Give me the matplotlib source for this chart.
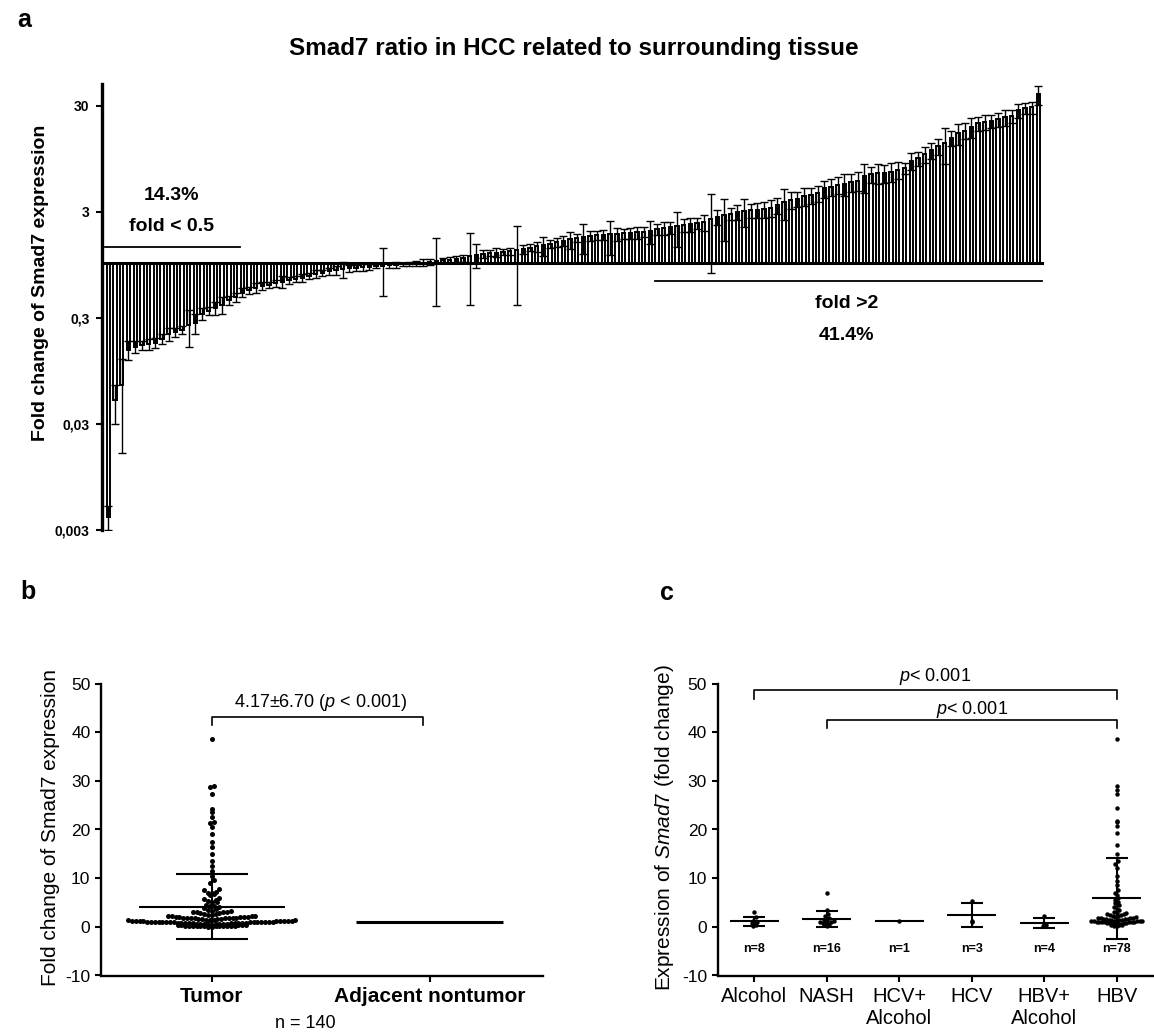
import numpy as np
import matplotlib.pyplot as plt
from matplotlib.ticker import NullLocator

plt.rcParams['font.family'] = ['Liberation Sans', 'DejaVu Sans']
plt.rcParams['mathtext.fontset'] = 'custom'
plt.rcParams['mathtext.rm'] = 'Liberation Sans'
plt.rcParams['mathtext.it'] = 'Liberation Sans:italic'
plt.rcParams['mathtext.bf'] = 'Liberation Sans:bold'

# === Data: panel a / b (140 tumours, sorted fold change tumour vs surrounding) ===
fold_change = np.array([
    0.004, 0.05, 0.07, 0.15, 0.16, 0.165, 0.17, 0.175, 0.19, 0.21,
    0.22, 0.23, 0.26, 0.27, 0.33, 0.35, 0.37, 0.40, 0.44, 0.47,
    0.52, 0.55, 0.58, 0.60, 0.62, 0.64, 0.66, 0.68, 0.70, 0.72,
    0.75, 0.78, 0.80, 0.83, 0.85, 0.86, 0.88, 0.89, 0.90, 0.91,
    0.92, 0.93, 0.94, 0.95, 0.96, 0.97, 0.98, 1.00, 1.02, 1.04,
    1.05, 1.06, 1.08, 1.10, 1.15, 1.18, 1.20, 1.22, 1.24, 1.26,
    1.28, 1.30, 1.33, 1.38, 1.42, 1.46, 1.50, 1.55, 1.60, 1.65,
    1.70, 1.75, 1.78, 1.80, 1.82, 1.84, 1.86, 1.88, 1.90, 1.92,
    1.95, 1.98, 2.05, 2.10, 2.15, 2.20, 2.25, 2.30, 2.35, 2.40,
    2.60, 2.70, 2.80, 2.90, 3.00, 3.05, 3.10, 3.15, 3.20, 3.30,
    3.50, 3.70, 3.90, 4.00, 4.20, 4.30, 4.50, 5.00, 5.20, 5.40,
    5.50, 5.70, 5.90, 6.50, 6.80, 7.00, 7.00, 7.20, 7.50, 7.80,
    9.10, 9.60, 10.5, 11.5, 12.5, 13.5, 15.0, 16.5, 17.5, 19.0,
    20.5, 21.3, 21.6, 22.5, 23.5, 24.2, 27.3, 28.7, 29.0, 38.5,
])
fold_sd = np.array([
    0.001, 0.02, 0.054, 0.03, 0.02, 0.015, 0.02, 0.02, 0.02, 0.03,
    0.02, 0.02, 0.10, 0.06, 0.04, 0.03, 0.05, 0.07, 0.04, 0.05,
    0.05, 0.04, 0.06, 0.05, 0.04, 0.05, 0.08, 0.05, 0.04, 0.06,
    0.05, 0.07, 0.05, 0.06, 0.08, 0.15, 0.06, 0.05, 0.07, 0.06,
    0.04, 0.45, 0.05, 0.06, 0.04, 0.05, 0.06, 0.08, 0.07, 0.65,
    0.05, 0.06, 0.07, 0.08, 0.75, 0.30, 0.10, 0.08, 0.12, 0.09,
    0.10, 0.90, 0.12, 0.10, 0.15, 0.30, 0.12, 0.15, 0.18, 0.30,
    0.15, 0.55, 0.20, 0.18, 0.20, 0.65, 0.25, 0.20, 0.22, 0.25,
    0.20, 0.50, 0.25, 0.30, 0.28, 0.80, 0.30, 0.35, 0.30, 0.40,
    1.80, 0.45, 1.20, 0.40, 0.50, 0.90, 0.45, 0.50, 0.55, 0.60,
    0.60, 1.20, 0.70, 0.65, 0.80, 0.75, 0.80, 0.90, 1.00, 0.95,
    1.30, 1.10, 1.20, 2.00, 1.20, 1.50, 1.40, 1.50, 1.30, 0.90,
    1.60, 1.40, 1.80, 2.00, 2.20, 5.00, 2.50, 3.70, 3.00, 4.00,
    3.00, 3.50, 3.00, 3.50, 4.00, 3.50, 4.00, 3.50, 4.00, 8.00,
])
tumor_mean = 4.17
tumor_sd = 6.70
adjacent_level = 1.0

# === Data: panel c (etiology groups) ===
group_names = ['Alcohol', 'NASH', 'HCV+\nAlcohol', 'HCV', 'HBV+\nAlcohol', 'HBV']
alcohol = [0.2, 0.4, 0.6, 0.8, 1.0, 1.3, 2.0, 3.0]
nash = [0.2, 0.3, 0.4, 0.5, 0.6, 0.8, 0.9, 1.0, 1.2, 1.3, 1.5, 1.8, 2.2, 2.6, 3.5, 7.0]
hcv_alcohol = [1.3]
hcv = [0.9, 1.3, 5.3]
hbv_alcohol = [0.1, 0.3, 0.6, 2.2]
hbv = [38.5, 29.0, 28.1, 27.2, 24.4, 21.8, 21.5, 20.8, 19.2, 16.8,
       15.0, 13.5, 13.0, 12.0, 10.5, 9.5, 8.5, 7.5, 7.0, 6.5,
       6.0, 5.6, 5.2, 4.8, 4.4, 4.0, 3.7, 3.4, 3.1, 2.9,
       2.8, 2.7, 2.6, 2.5, 2.4, 2.3, 2.2, 2.1, 2.0, 1.9,
       1.9, 1.8, 1.8, 1.7, 1.7, 1.6, 1.6, 1.5, 1.5, 1.4,
       1.4, 1.3, 1.3, 1.2, 1.2, 1.1, 1.1, 1.0, 1.0, 0.9,
       1.1, 1.0, 1.0, 0.9, 0.9, 0.8, 0.8, 0.7, 0.7, 0.6,
       0.6, 0.5, 0.5, 0.4, 0.4, 0.3, 0.2, 0.1]
groups = [alcohol, nash, hcv_alcohol, hcv, hbv_alcohol, hbv]

W, H = 1154, 1034
fig = plt.figure(figsize=(W / 100, H / 100), dpi=100)


def add_ax(left, top, right, bottom):
    return fig.add_axes([left / W, 1 - bottom / H, (right - left) / W, (bottom - top) / H])


def label(x, y, s, **kw):
    fig.text(x / W, 1 - y / H, s, ha='center', va='center', **kw)


def swarm_x(ax, values, center, dot_px, row_px):
    # rows of dots, lowest values in the middle of each row (GraphPad style)
    values = np.asarray(values, dtype=float)
    p0 = ax.transData.transform((0, 0))
    p1 = ax.transData.transform((1, 1))
    sx, sy = p1 - p0
    rows = np.round(values * sy / row_px)
    xs = np.zeros(len(values))
    for r in np.unique(rows):
        idx = np.where(rows == r)[0]
        idx = idx[np.argsort(values[idx])]
        k = len(idx)
        offs = np.arange(k) - (k - 1) / 2
        offs = offs[np.argsort(np.abs(offs), kind='stable')]
        xs[idx] = center + offs * dot_px / sx
    return xs


def style_axes(ax):
    for s in ['top', 'right']:
        ax.spines[s].set_visible(False)
    for s in ['left', 'bottom']:
        ax.spines[s].set_linewidth(1.7)
    ax.tick_params(direction='out', length=4.5, width=1.5)


# === Panel a ===
ax = add_ax(102, 84, 1045, 530)
x = np.arange(len(fold_change))
ax.set_yscale('log')
ax.bar(x, fold_change - 1, bottom=1, width=0.5, color='white',
       edgecolor='black', linewidth=1.4)
lower = np.minimum(fold_sd, fold_change * 0.8)
ax.errorbar(x, fold_change, yerr=[lower, fold_sd], fmt='none', ecolor='black',
            elinewidth=1.0, capsize=2.8, capthick=1.0)
ax.plot([-0.5, len(x) - 0.5], [1, 1], color='black', lw=2.2)
ax.set_xlim(-0.96, 140)
ax.set_ylim(0.003, 48.3)
ax.set_yticks([0.003, 0.03, 0.3, 3, 30])
ax.set_yticklabels(['0,003', '0,03', '0,3', '3', '30'], fontweight='bold', fontsize=10)
ax.yaxis.set_minor_locator(NullLocator())
ax.set_xticks([])
for s in ['top', 'right', 'bottom']:
    ax.spines[s].set_visible(False)
ax.spines['left'].set_linewidth(2.4)
ax.tick_params(axis='y', direction='out', length=4, width=1.5, pad=5)

n_low = int(np.sum(fold_change < 0.5))
n_high = int(np.sum(fold_change > 2))
ax.plot([-0.5, n_low - 0.4], [1.40, 1.40], color='black', lw=1.3)
ax.text(9.5, 4.3, '14.3%', ha='center', va='center', fontsize=14, fontweight='bold')
ax.text(9.5, 2.2, 'fold < 0.5', ha='center', va='center', fontsize=14, fontweight='bold')
ax.plot([len(x) - n_high - 0.3, len(x) - 0.5], [0.67, 0.67], color='black', lw=1.3)
ax.text(110.4, 0.415, 'fold >2', ha='center', va='center', fontsize=14, fontweight='bold')
ax.text(110.4, 0.207, '41.4%', ha='center', va='center', fontsize=14, fontweight='bold')

label(574, 49, 'Smad7 ratio in HCC related to surrounding tissue', fontsize=17.5, fontweight='bold')
label(41, 283, 'Fold change of Smad7 expression', fontsize=14, fontweight='bold', rotation=90)
label(24, 20, 'a', fontsize=18, fontweight='bold')

# === Panel b ===
axb = add_ax(101.5, 683.5, 543, 975.5)
axb.set_xlim(-0.505, 1.518)
axb.set_ylim(-10, 50)
style_axes(axb)
axb.set_yticks(np.arange(-10, 51, 10))
axb.set_yticklabels([str(v) for v in range(-10, 51, 10)], fontsize=12.5)
axb.set_xticks([0, 1])
axb.set_xticklabels(['Tumor', 'Adjacent nontumor'], fontsize=15, fontweight='bold')

xs = swarm_x(axb, fold_change, 0, 3.8, 4.5)
axb.plot(xs, fold_change, 'o', ms=3.6, color='black', mew=0, clip_on=False)
axb.hlines(tumor_mean, -0.335, 0.335, color='black', lw=1.5)
axb.hlines([tumor_mean + tumor_sd, tumor_mean - tumor_sd], -0.165, 0.165, color='black', lw=1.5)
axb.vlines(0, tumor_mean - tumor_sd, tumor_mean + tumor_sd, color='black', lw=1.5)
axb.hlines(adjacent_level, 1 - 0.337, 1 + 0.337, color='black', lw=2.2)

axb.plot([0, 0, 0.97, 0.97], [41.5, 43.2, 43.2, 41.5], color='black', lw=1.2)
axb.text(0.5, 46, f'{tumor_mean:.2f}±{tumor_sd:.2f} ($p$ < 0.001)', ha='center', va='center', fontsize=13)

label(305, 1023, f'n = {len(fold_change)}', fontsize=13)
label(51, 828, 'Fold change of Smad7 expression', fontsize=15, rotation=90)
label(28, 592, 'b', fontsize=18, fontweight='bold')

# === Panel c ===
axc = add_ax(718, 683.5, 1153, 975.5)
axc.set_xlim(-0.5, 5.5)
axc.set_ylim(-10, 50)
style_axes(axc)
axc.set_yticks(np.arange(-10, 51, 10))
axc.set_yticklabels([str(v) for v in range(-10, 51, 10)], fontsize=12.5)
axc.set_xticks(range(len(group_names)))
axc.set_xticklabels(group_names, fontsize=14.5)

for i, vals in enumerate(groups):
    vals = np.asarray(vals, dtype=float)
    gx = swarm_x(axc, vals, i, 2.7, 4)
    axc.plot(gx, vals, 'o', ms=3.2, color='black', mew=0, clip_on=False)
    m = vals.mean()
    axc.hlines(m, i - 0.34, i + 0.34, color='black', lw=1.5)
    if len(vals) > 1:
        sd = vals.std(ddof=1)
        axc.hlines([m + sd, m - sd], i - 0.15, i + 0.15, color='black', lw=1.5)
        axc.vlines(i, m - sd, m + sd, color='black', lw=1.5)
    axc.text(i, -4.6, f'n={len(vals)}', ha='center', va='center', fontsize=9, fontweight='bold')

axc.plot([0, 0, 5, 5], [46.8, 48.7, 48.7, 46.8], color='black', lw=1.2, clip_on=False)
axc.plot([1, 1, 5, 5], [40.8, 42.5, 42.5, 40.8], color='black', lw=1.2, clip_on=False)
axc.text(2.5, 51.5, '$p$< 0.001', ha='center', va='center', fontsize=13)
axc.text(3.0, 44.7, '$p$< 0.001', ha='center', va='center', fontsize=13)

label(665, 828, r'Expression of $\mathit{Smad7}$ (fold change)', fontsize=15, rotation=90)
label(667, 593, 'c', fontsize=18, fontweight='bold')

fig.savefig('out.png', dpi=100)
